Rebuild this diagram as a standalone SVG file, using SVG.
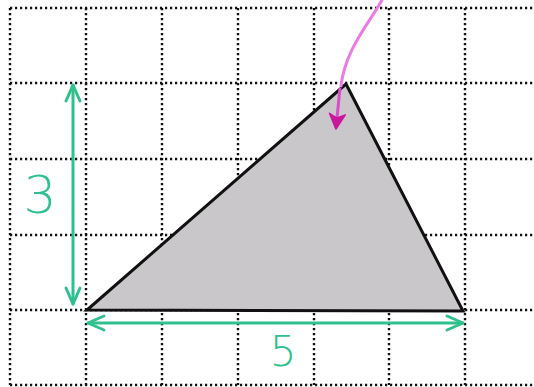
<svg xmlns="http://www.w3.org/2000/svg" width="534" height="387" viewBox="0 0 534 387">
<defs>
<style>
.grid{stroke:#111;stroke-width:2.4;stroke-dasharray:2.2 2.8;fill:none}
.tri{fill:#c9c7c9;stroke:#111;stroke-width:3;stroke-linejoin:miter}
.dim{stroke:#2fc08e;stroke-width:3;fill:none;stroke-linecap:round}
.lbl{fill:#2fc08e;font-family:"DejaVu Sans","Liberation Sans",sans-serif;font-weight:300}
.ptr{stroke:#ec7be6;stroke-width:3;fill:none;stroke-linecap:round}
</style>
<marker id="ah" viewBox="0 0 20 20" refX="18" refY="10" markerWidth="20" markerHeight="20" markerUnits="userSpaceOnUse" orient="auto-start-reverse">
<path d="M2,3 L18,10 L2,17" fill="none" stroke="#2fc08e" stroke-width="3" stroke-linejoin="round" stroke-linecap="round"/>
</marker>
<marker id="ph" viewBox="0 0 20 20" refX="16" refY="10" markerWidth="20" markerHeight="20" markerUnits="userSpaceOnUse" orient="auto">
<path d="M2,2 L17,10 L2,18 L6,10 Z" fill="#c8189c" stroke="#c8189c" stroke-width="1.5" stroke-linejoin="round"/>
</marker>
</defs>
<rect width="534" height="387" fill="#fff"/>
<g id="grid" class="grid">
<path d="M10,8 V385 M86,8 V385 M162,8 V385 M238,8 V385 M314,8 V385 M389,8 V385 M465,8 V385"/>
<path d="M10,8 H534 M10,83 H534 M10,159 H534 M10,235 H534 M10,310 H534 M10,385 H534"/>
</g>
<g id="triangle">
<polygon class="tri" points="87,310 346,84 463,311"/>
</g>
<g id="connectors">
<line class="dim" x1="73" y1="304" x2="73" y2="85" marker-start="url(#ah)" marker-end="url(#ah)"/>
<line class="dim" x1="88" y1="323" x2="463" y2="323" marker-start="url(#ah)" marker-end="url(#ah)"/>
<path class="ptr" d="M382,0 C368,25 345,50 341,86"/>
<path d="M340,88 L336,128" stroke="#d94fc9" stroke-width="3" fill="none" marker-end="url(#ph)"/>
</g>
<g id="label-3">
<text class="lbl" x="40" y="213" font-size="52" text-anchor="middle">3</text>
</g>
<g id="label-5">
<text class="lbl" x="283" y="366" font-size="42" text-anchor="middle">5</text>
</g>
</svg>
